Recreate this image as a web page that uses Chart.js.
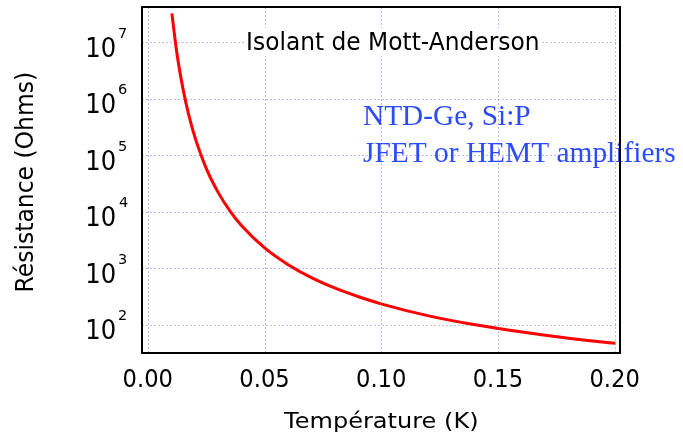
<!DOCTYPE html>
<html>
<head>
<meta charset="utf-8">
<script src="https://cdn.jsdelivr.net/npm/chart.js@4/dist/chart.umd.min.js"></script>
<style>
  html, body { margin: 0; padding: 0; background: #fff; }
  #wrap { width: 683px; height: 439px; }
</style>
</head>
<body>
<div id="wrap"><canvas id="chart"></canvas></div>
<script>
// temperature (K) and resistance (Ohms) along the curve
const temperature = [0.010, 0.012, 0.014, 0.016, 0.018, 0.020, 0.025, 0.030, 0.035, 0.040,
                     0.050, 0.060, 0.070, 0.080, 0.090, 0.100, 0.120, 0.140, 0.160, 0.180, 0.200];
const resistance = [3.3e7, 7.2e6, 2.24e6, 8.7e5, 3.96e5, 2.05e5, 5.6e4, 2.18e4, 1.04e4, 5700,
                    2290, 1170, 690, 453, 320, 237, 147, 102, 76, 59, 48];

const xTicks = [0.00, 0.05, 0.10, 0.15, 0.20];
const yTicks = [1e2, 1e3, 1e4, 1e5, 1e6, 1e7];

const SANS = '"DejaVu Sans", sans-serif';
const SERIF = '"Liberation Serif", serif';

// draw text squeezed or stretched so its ink spans `width` px (0 = natural)
function fitText(ctx, str, x, y, font, width, align) {
  ctx.font = font;
  const m = ctx.measureText(str);
  const ink = m.actualBoundingBoxLeft + m.actualBoundingBoxRight;
  const sx = width ? width / ink : 1;
  ctx.save();
  ctx.translate(x, y);
  ctx.scale(sx, 1);
  ctx.textAlign = 'left';
  ctx.textBaseline = 'alphabetic';
  let ox = m.actualBoundingBoxLeft;
  if (align === 'center') ox -= ink / 2;
  if (align === 'right') ox -= ink;
  ctx.fillText(str, ox, 0);
  ctx.restore();
  return ink * sx;
}

const labels = {
  id: 'labels',
  afterDraw(chart) {
    const { ctx, chartArea: a } = chart;
    const xs = chart.scales.x, ys = chart.scales.y;
    ctx.save();

    ctx.fillStyle = '#000';
    // y ticks: 10 with raised exponent
    yTicks.forEach(v => {
      const py = ys.getPixelForValue(v);
      fitText(ctx, '10', 115, py + 14, '27px ' + SANS, 28, 'right');
      fitText(ctx, String(Math.round(Math.log10(v))), 119, py - 5, '14.5px ' + SANS, 0, 'left');
    });
    // x ticks
    xTicks.forEach(v => {
      const px = xs.getPixelForValue(v);
      fitText(ctx, v.toFixed(2), px - 1, 387, '24.5px ' + SANS, 48, 'center');
    });

    // axis titles
    fitText(ctx, 'Température (K)', 380, 428, '21.5px ' + SANS, 194, 'center');
    ctx.save();
    ctx.translate(33, 182);
    ctx.rotate(-Math.PI / 2);
    fitText(ctx, 'Résistance (Ohms)', 0, 0, '25px ' + SANS, 217, 'center');
    ctx.restore();

    // title note sits on a white box over the grid
    ctx.fillStyle = '#fff';
    ctx.fillRect(244, 28, 298, 28);
    ctx.fillStyle = '#000';
    fitText(ctx, 'Isolant de Mott-Anderson', 248, 50, '24.5px ' + SANS, 290, 'left');

    ctx.fillStyle = '#2a4bff';
    fitText(ctx, 'NTD-Ge, Si:P', 363, 125, '30px ' + SERIF, 167, 'left');
    fitText(ctx, 'JFET or HEMT amplifiers', 363, 162, '30px ' + SERIF, 312, 'left');

    // plot frame
    ctx.strokeStyle = '#000';
    ctx.lineWidth = 2;
    ctx.strokeRect(a.left, a.top, a.right - a.left, a.bottom - a.top);
    ctx.restore();
  }
};

const gridStyle = { color: 'rgba(140,140,255,0.6)', lineWidth: 1, drawTicks: false };

new Chart(document.getElementById('chart'), {
  type: 'line',
  data: {
    datasets: [{
      data: temperature.map((t, i) => ({ x: t, y: resistance[i] })),
      borderColor: '#ff0000',
      borderWidth: 3,
      pointRadius: 0,
      fill: false,
      cubicInterpolationMode: 'monotone'
    }]
  },
  options: {
    responsive: true,
    maintainAspectRatio: false,
    animation: false,
    layout: { padding: { top: 7, right: 63, left: 0, bottom: 0 } },
    plugins: { legend: { display: false }, tooltip: { enabled: false } },
    scales: {
      x: {
        type: 'linear',
        min: -0.0028,
        max: 0.202,
        afterBuildTicks: s => { s.ticks = xTicks.map(v => ({ value: v })); },
        afterFit: s => { s.height = 86; },
        border: { display: false, dash: [2, 2] },
        grid: gridStyle,
        ticks: { display: false }
      },
      y: {
        type: 'logarithmic',
        min: 32.4,
        max: 4.27e7,
        afterBuildTicks: s => { s.ticks = yTicks.map(v => ({ value: v })); },
        afterFit: s => { s.width = 142; },
        border: { display: false, dash: [2, 2] },
        grid: gridStyle,
        ticks: { display: false }
      }
    }
  },
  plugins: [labels]
});
</script>
</body>
</html>
